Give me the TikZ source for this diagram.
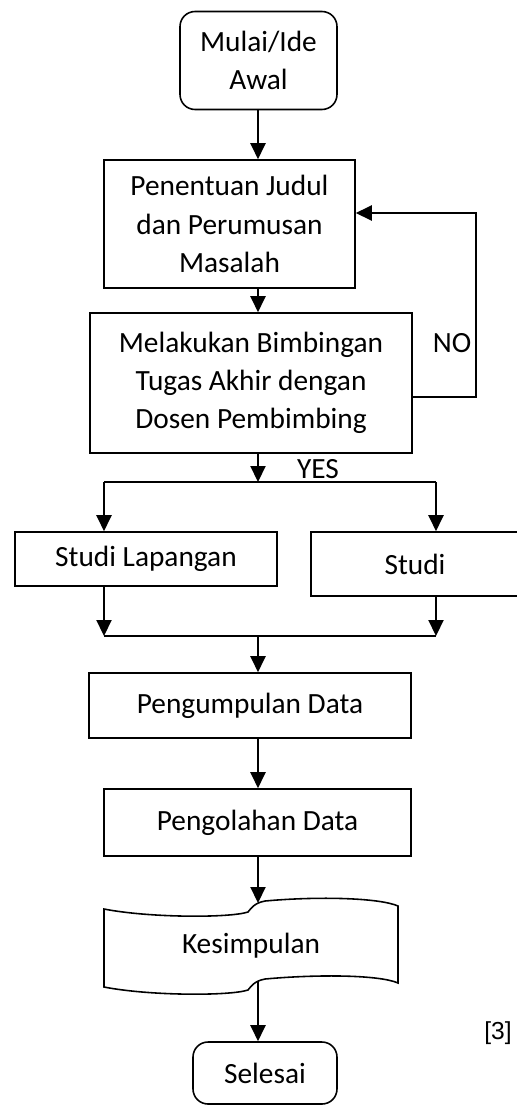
\documentclass[tikz,border=0pt]{standalone}
\usepackage{fontspec}
\setmainfont{Carlito}
\newfontfamily\refsans{Liberation Sans}
\usetikzlibrary{arrows.meta}

\begin{document}
\begin{tikzpicture}[x=0.02cm, y=-0.02cm,
    every node/.style ={font=\fontsize{16.7}{21.8}\selectfont},
    process/.style ={rectangle, draw, line width=0.9pt, align=center, inner sep=0pt},
    terminal/.style ={rectangle, rounded corners=0.3cm, draw, line width=0.9pt, align=center, inner sep=0pt},
    flow/.style ={line width=1.2pt, -{Triangle[length=0.32cm, width=0.3cm]}},
    plain/.style ={line width=1.2pt}]
   \useasboundingbox (0,0) rectangle (517,1106);

   \node[terminal, minimum width=3.14cm, minimum height=1.96cm] (mulai) at (258.5,60.5) {Mulai/Ide\\Awal};
   \node[process, minimum width=5.02cm, minimum height=2.56cm] (judul) at (229.5,224) {Penentuan Judul\\dan Perumusan\\Masalah};
   \node[process, minimum width=6.44cm, minimum height=2.8cm] (bimbingan) at (251,383) {Melakukan Bimbingan\\Tugas Akhir dengan\\Dosen Pembimbing};
   \node[process, minimum width=5.24cm, minimum height=1.08cm] (lapangan) at (146,559) {Studi Lapangan};
   \node[process, minimum width=4.16cm, minimum height=1.28cm] (pustaka) at (415,564) {Studi};
   \node[process, minimum width=6.44cm, minimum height=1.3cm] (pengumpulan) at (250,705.5) {Pengumpulan Data};
   \node[process, minimum width=6.14cm, minimum height=1.34cm] (pengolahan) at (257.5,822.5) {Pengolahan Data};
   \node[terminal, minimum width=2.88cm, minimum height=1.24cm] (selesai) at (265,1073) {Selesai};

   % punched tape shape
   \draw[line width=0.9pt] (104,909) .. controls (150,918) and (230,918) .. (248,912)
      .. controls (252,907) and (255,903) .. (265,901)
      .. controls (320,896) and (380,898) .. (398,906) -- (398,983)
      .. controls (380,975) and (320,974) .. (265,979)
      .. controls (255,981) and (252,985) .. (248,990)
      .. controls (230,996) and (150,996) .. (104,987) -- cycle;
   \node (kesimpulan) at (251,946) {Kesimpulan};

   \coordinate (axis) at (258,0);
   \coordinate (kesTop) at (258,903);
   \coordinate (kesBot) at (258,981);
   \coordinate (loopA) at (476,397);
   \coordinate (loopB) at (476,213);
   \coordinate (split) at (258,482);
   \coordinate (splitL) at (104,482);
   \coordinate (splitR) at (436,482);
   \coordinate (joinL) at (104,636);
   \coordinate (joinR) at (436,636);

   \draw[flow] (mulai.south -| axis) to (judul.north -| axis);
   \draw[flow] (judul.south -| axis) to (bimbingan.north -| axis);
   \draw[flow] (bimbingan.east |- loopA) -- (loopA) -- (loopB) -- (judul.east |- loopB);
   \node (no) at (452,343) {NO};

   \draw[flow] (bimbingan.south -| axis) to (split);
   \node (yes) at (318,469) {YES};
   \draw[plain] (splitL) to (splitR);
   \draw[flow] (splitL) to (lapangan.north -| splitL);
   \draw[flow] (splitR) to (pustaka.north -| splitR);

   \draw[flow] (lapangan.south -| joinL) to (joinL);
   \draw[flow] (pustaka.south -| joinR) to (joinR);
   \draw[plain] (joinL) to (joinR);
   \draw[flow] (joinL -| axis) to (pengumpulan.north -| axis);
   \draw[flow] (pengumpulan.south -| axis) to (pengolahan.north -| axis);
   \draw[flow] (pengolahan.south -| axis) to (kesTop);
   \draw[flow] (kesBot) to (selesai.north -| axis);

   \node[font=\fontsize{14}{17}\selectfont\refsans] (ref) at (498,1033) {[3]};
 \end{tikzpicture}
\end{document}
